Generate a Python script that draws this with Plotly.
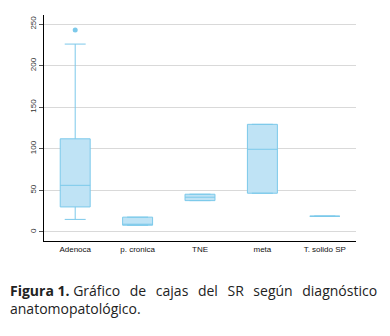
import plotly.graph_objects as go

categories = ["Adenoca", "p. cronica", "TNE", "meta", "T. solido SP"]
q1 = [30, 8, 37.6, 46.5, 18.8]
median = [56, 8, 41.7, 99.4, 18.8]
q3 = [112, 17.7, 45.3, 129.4, 18.8]
lower = [15, 8, 37.6, 46.5, 18.8]
upper = [226, 17.7, 45.3, 129.4, 18.8]
outlier_cat = ["Adenoca"]
outlier_val = [243]
y_ticks = [0, 50, 100, 150, 200, 250]

line_c = "#7cc9ea"
fill_c = "#bfe3f5"

fig = go.Figure()
fig.add_trace(go.Box(
    x=categories, q1=q1, median=median, q3=q3,
    lowerfence=lower, upperfence=upper,
    fillcolor=fill_c, line=dict(color=line_c, width=1),
    whiskerwidth=0.7, width=0.48, boxpoints=False, showlegend=False,
    hoverinfo="skip"))
fig.add_trace(go.Scatter(
    x=outlier_cat, y=outlier_val, mode="markers",
    marker=dict(color=line_c, size=5), showlegend=False, hoverinfo="skip"))

sp = "\u00a0\u00a0\u2009"
caption = ("<b>Figura 1.</b> Gráfico" + sp + "de" + sp + "cajas" + sp + "del" + sp + "SR" + sp
           + "según" + sp + "diagnóstico<br>anatomopatológico.")

fig.update_layout(
    width=382, height=328,
    margin=dict(l=36, r=34, t=7, b=95),
    paper_bgcolor="white", plot_bgcolor="white",
    font=dict(family="Liberation Sans, Arial", size=8, color="#222"),
    xaxis=dict(type="category", categoryorder="array", categoryarray=categories,
               range=[-0.5, 4.5], showline=True, linecolor="black", linewidth=1.3,
               showgrid=False, ticks="", tickfont=dict(size=8, color="#111"), zeroline=False,
               automargin=False),
    yaxis=dict(range=[-11, 261], tickvals=y_ticks, tickangle=-90,
               showline=True, linecolor="black", linewidth=1.3,
               showgrid=True, gridcolor="#d9d9d9", gridwidth=1,
               ticks="outside", ticklen=4, tickcolor="#555",
               tickfont=dict(size=8, color="#333"), zeroline=False,
               automargin=False),
    annotations=[
        dict(xref="paper", yref="paper", x=-36/312, y=-38/226, xanchor="left", yanchor="top",
             align="left", showarrow=False, text=caption,
             font=dict(family="Open Sans, Noto Sans, DejaVu Sans", size=14, color="#222"))
    ],
)
fig.write_html("out.html")
